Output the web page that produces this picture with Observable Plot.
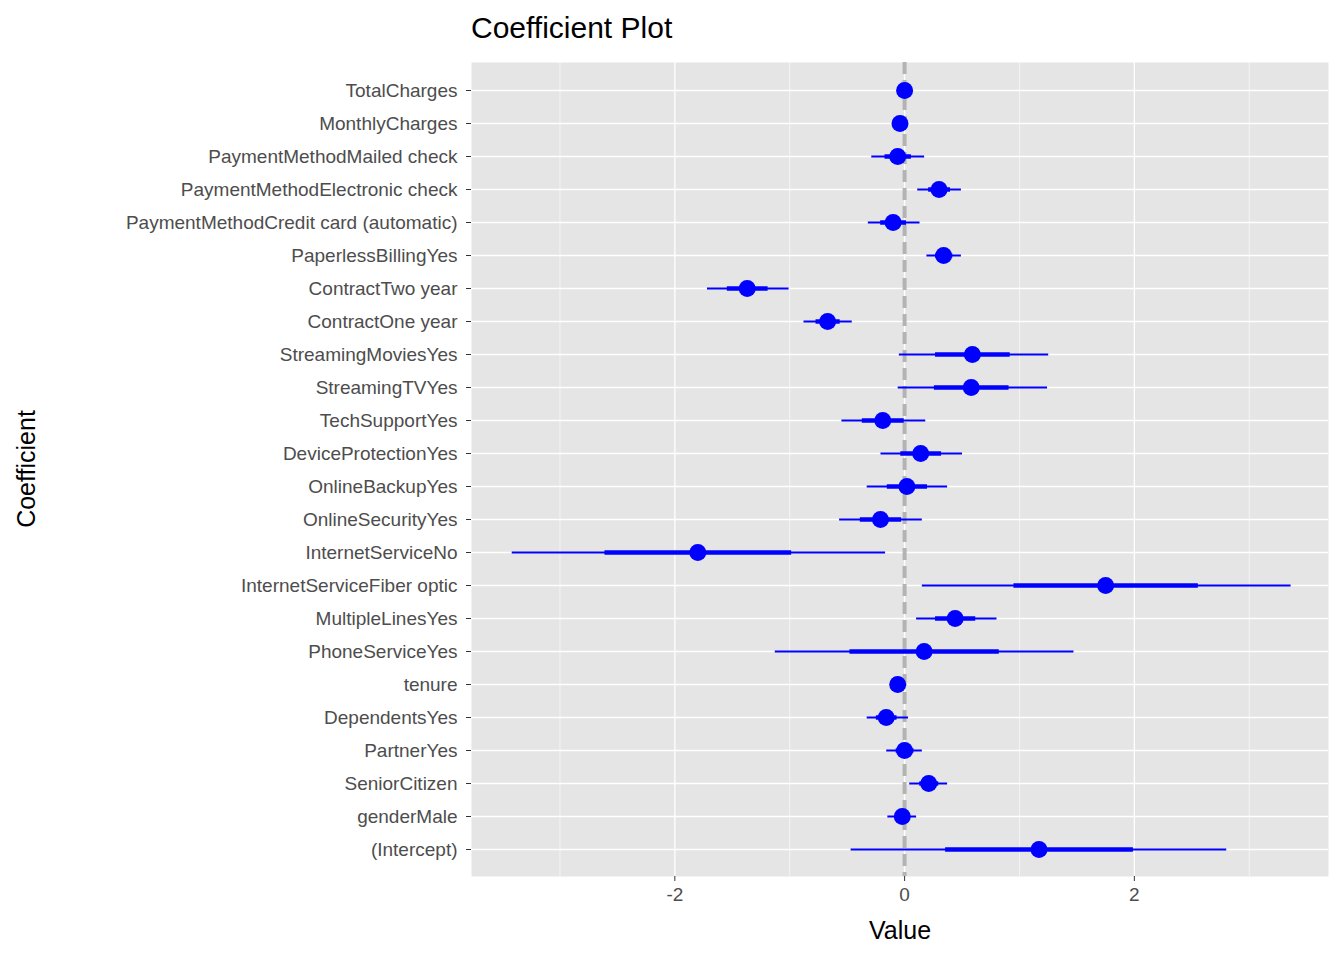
<!DOCTYPE html>
<html><head><meta charset="utf-8">
<script src="https://cdn.jsdelivr.net/npm/d3@7"></script>
<script src="https://cdn.jsdelivr.net/npm/@observablehq/plot@0.6"></script>
<style>
body{margin:0;background:#fff;font-family:"Liberation Sans",Arial,sans-serif;}
#wrap{position:relative;width:1344px;height:960px;}
#title{position:absolute;left:471px;top:11px;font-size:30px;color:#000;}
#ylab{position:absolute;left:26px;top:469px;transform:translate(-50%,-50%) rotate(-90deg);font-size:25px;color:#000;}
#xlab{position:absolute;left:900px;top:930px;transform:translate(-50%,-50%);font-size:25px;color:#000;}
</style></head><body>
<div id="wrap"><div id="chart"></div><div id="title">Coefficient Plot</div><div id="ylab">Coefficient</div><div id="xlab">Value</div></div>
<script>
const coefNames = ["TotalCharges","MonthlyCharges","PaymentMethodMailed check","PaymentMethodElectronic check","PaymentMethodCredit card (automatic)","PaperlessBillingYes","ContractTwo year","ContractOne year","StreamingMoviesYes","StreamingTVYes","TechSupportYes","DeviceProtectionYes","OnlineBackupYes","OnlineSecurityYes","InternetServiceNo","InternetServiceFiber optic","MultipleLinesYes","PhoneServiceYes","tenure","DependentsYes","PartnerYes","SeniorCitizen","genderMale","(Intercept)"];
const estimates = [0.0,-0.04,-0.06,0.30,-0.10,0.34,-1.37,-0.67,0.59,0.58,-0.19,0.14,0.02,-0.21,-1.80,1.75,0.44,0.17,-0.06,-0.16,0.0,0.21,-0.02,1.17];
const outerLow  = [0.0,-0.05,-0.29,0.11,-0.32,0.19,-1.72,-0.88,-0.05,-0.06,-0.55,-0.21,-0.33,-0.57,-3.42,0.15,0.10,-1.13,-0.065,-0.33,-0.16,0.04,-0.15,-0.47];
const outerHigh = [0.0,-0.03,0.17,0.49,0.13,0.49,-1.01,-0.46,1.25,1.24,0.18,0.50,0.37,0.15,-0.17,3.36,0.80,1.47,-0.055,0.03,0.15,0.37,0.10,2.80];
const xTicks = [-2,0,2];
const data = coefNames.map((n,i)=>{const h=(outerHigh[i]-outerLow[i])/4;return {name:n,est:estimates[i],lo:outerLow[i],hi:outerHigh[i],ilo:estimates[i]-h,ihi:estimates[i]+h};});
const chart = Plot.plot({
  width:1344,height:960,marginLeft:471,marginRight:16,marginTop:62,marginBottom:84,
  style:{fontFamily:"Liberation Sans, Arial, sans-serif",fontSize:"19px",color:"#4d4d4d"},
  x:{domain:[-3.77,3.69],label:null},
  y:{type:"point",domain:coefNames,padding:0.6,label:null},
  marks:[
    Plot.frame({fill:"#e5e5e5",stroke:null}),
    Plot.ruleX([-3,-1,1,3],{stroke:"#fff",strokeWidth:0.6}),
    Plot.ruleX(xTicks,{stroke:"#fff",strokeWidth:1.3}),
    Plot.ruleY(coefNames,{y:d=>d,stroke:"#fff",strokeWidth:1.3}),
    Plot.ruleX([0],{stroke:"#b3b3b3",strokeWidth:4,strokeDasharray:"12,6"}),
    Plot.link(data,{x1:"lo",x2:"hi",y1:"name",y2:"name",stroke:"blue",strokeWidth:2}),
    Plot.link(data,{x1:"ilo",x2:"ihi",y1:"name",y2:"name",stroke:"blue",strokeWidth:4.5}),
    Plot.dot(data,{x:"est",y:"name",r:8.5,fill:"blue",stroke:null}),
    Plot.axisX({ticks:xTicks,tickFormat:d=>String(d),tickSize:5,tickPadding:6,stroke:"#333",fontSize:19,label:null}),
    Plot.axisY({tickSize:5,tickPadding:9,stroke:"#333",fontSize:19,label:null})
  ]
});
document.getElementById("chart").appendChild(chart);
</script></body></html>
